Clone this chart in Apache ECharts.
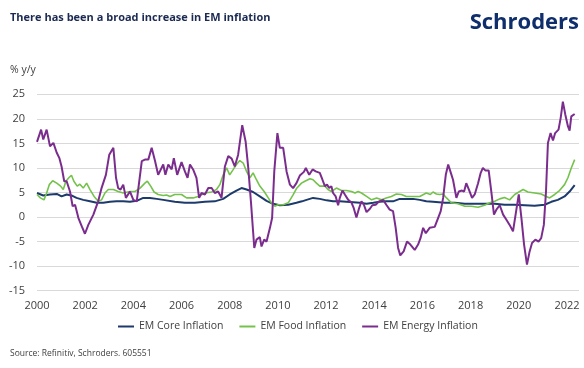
<!DOCTYPE html>
<html><head><meta charset="utf-8">
<script src="https://cdn.jsdelivr.net/npm/echarts@6/dist/echarts.min.js"></script>
<style>html,body{margin:0;padding:0;background:#fff}#c{width:584px;height:368px}</style>
</head><body><div id="c"></div>
<script>
// Decimal-year dates and values (% y/y)
const coreDates = [2000.0,2000.26,2000.54,2000.82,2001.02,2001.23,2001.43,2001.64,2001.92,2002.2,2002.48,2002.75,2003.03,2003.3,2003.58,2003.86,2004.14,2004.41,2004.69,2004.97,2005.24,2005.72,2006.14,2006.55,2006.97,2007.38,2007.73,2008.0,2008.28,2008.49,2008.7,2008.97,2009.25,2009.53,2009.8,2010.08,2010.43,2010.77,2011.0,2011.19,2011.46,2011.74,2012.02,2012.29,2012.57,2012.85,2013.13,2013.4,2013.68,2013.96,2014.23,2014.5,2014.78,2015.06,2015.33,2015.61,2015.89,2016.16,2016.44,2016.93,2017.34,2017.76,2018.17,2018.58,2019.0,2019.41,2019.83,2020.25,2020.66,2021.07,2021.35,2021.62,2021.9,2022.11,2022.32];
const coreValues = [4.9,4.4,4.6,4.7,4.2,4.6,4.4,3.9,3.5,3.2,2.9,2.9,3.1,3.2,3.2,3.1,3.3,3.9,3.9,3.7,3.5,3.1,2.9,2.9,3.1,3.2,3.7,4.6,5.4,5.9,5.6,5.1,4.2,3.3,2.7,2.4,2.5,2.9,3.2,3.5,3.9,3.7,3.4,3.2,3.2,3.1,3.0,2.9,2.7,2.9,3.1,3.2,3.2,3.7,3.7,3.7,3.5,3.2,3.1,2.9,2.9,2.7,2.7,2.7,2.7,2.5,2.5,2.4,2.3,2.5,3.1,3.5,4.2,5.2,6.5];

const foodDates = [2000.0,2000.14,2000.29,2000.4,2000.51,2000.65,2000.82,2000.98,2001.09,2001.2,2001.34,2001.43,2001.53,2001.67,2001.78,2001.92,2002.06,2002.2,2002.37,2002.54,2002.68,2002.82,2002.96,2003.17,2003.37,2003.58,2003.86,2004.07,2004.28,2004.48,2004.58,2004.72,2004.86,2005.03,2005.24,2005.38,2005.52,2005.72,2006.0,2006.21,2006.48,2006.69,2006.97,2007.25,2007.45,2007.59,2007.73,2007.87,2008.0,2008.15,2008.28,2008.42,2008.56,2008.7,2008.84,2008.97,2009.11,2009.25,2009.43,2009.6,2009.73,2009.87,2010.01,2010.22,2010.43,2010.63,2010.77,2010.98,2011.12,2011.33,2011.46,2011.6,2011.74,2011.95,2012.08,2012.22,2012.43,2012.64,2012.85,2013.06,2013.2,2013.33,2013.47,2013.68,2013.89,2014.1,2014.3,2014.5,2014.71,2014.92,2015.13,2015.33,2015.61,2015.89,2016.16,2016.33,2016.44,2016.58,2016.72,2016.86,2017.0,2017.2,2017.48,2017.76,2018.03,2018.31,2018.58,2018.79,2019.0,2019.21,2019.41,2019.62,2019.83,2020.04,2020.18,2020.38,2020.66,2020.93,2021.14,2021.28,2021.49,2021.69,2021.9,2022.04,2022.18,2022.32];
const foodValues = [4.6,3.9,3.5,4.9,6.6,7.4,6.9,6.3,5.6,7.3,8.1,8.5,7.3,6.3,6.7,5.9,6.9,5.6,4.2,3.2,3.5,4.9,5.6,5.6,5.2,4.9,5.2,5.2,5.9,6.9,7.3,6.3,5.1,4.6,4.4,4.5,4.2,4.6,4.6,3.9,3.9,4.2,4.9,5.1,5.6,6.6,8.6,10.0,8.6,9.7,10.7,11.5,11.0,9.3,8.0,9.0,7.6,6.3,5.2,3.9,2.9,2.2,2.5,2.5,2.9,4.5,5.8,6.9,7.3,7.8,7.6,6.9,6.3,6.3,5.6,5.2,5.9,5.4,5.4,5.2,4.9,5.2,4.9,4.2,3.5,3.9,3.5,3.9,4.2,4.7,4.6,4.2,4.2,4.2,4.9,4.6,5.1,4.7,4.6,4.7,3.9,2.9,2.7,2.2,2.2,2.0,2.4,2.9,3.2,3.7,4.0,3.5,4.6,5.2,5.6,5.1,4.9,4.7,4.2,3.9,4.6,5.4,6.6,8.0,10.0,11.7];

const energyDates = [2000.0,2000.17,2000.26,2000.4,2000.54,2000.68,2000.82,2000.93,2001.02,2001.13,2001.23,2001.37,2001.48,2001.58,2001.72,2001.86,2001.99,2002.13,2002.34,2002.54,2002.68,2002.86,2003.0,2003.17,2003.28,2003.37,2003.47,2003.58,2003.69,2003.86,2004.0,2004.14,2004.21,2004.35,2004.48,2004.62,2004.76,2004.9,2005.03,2005.24,2005.33,2005.45,2005.59,2005.68,2005.82,2006.0,2006.14,2006.25,2006.35,2006.48,2006.62,2006.73,2006.83,2006.97,2007.11,2007.25,2007.38,2007.52,2007.66,2007.8,2007.94,2008.08,2008.21,2008.35,2008.52,2008.66,2008.77,2008.88,2008.97,2009.02,2009.11,2009.25,2009.32,2009.43,2009.53,2009.67,2009.76,2009.85,2009.98,2010.08,2010.22,2010.36,2010.5,2010.63,2010.77,2010.91,2011.08,2011.16,2011.3,2011.44,2011.57,2011.74,2011.85,2011.95,2012.04,2012.13,2012.22,2012.29,2012.4,2012.5,2012.57,2012.68,2012.78,2012.92,2013.06,2013.15,2013.26,2013.37,2013.47,2013.57,2013.68,2013.82,2013.92,2014.06,2014.2,2014.37,2014.5,2014.64,2014.78,2014.89,2014.99,2015.08,2015.22,2015.36,2015.5,2015.68,2015.82,2015.92,2016.03,2016.14,2016.3,2016.51,2016.65,2016.76,2016.86,2016.97,2017.07,2017.18,2017.27,2017.41,2017.51,2017.64,2017.73,2017.82,2017.93,2018.06,2018.17,2018.31,2018.42,2018.51,2018.61,2018.75,2018.86,2018.97,2019.07,2019.21,2019.35,2019.48,2019.62,2019.76,2019.9,2020.0,2020.11,2020.22,2020.34,2020.45,2020.55,2020.69,2020.82,2020.93,2021.04,2021.13,2021.21,2021.32,2021.42,2021.51,2021.65,2021.74,2021.83,2021.93,2022.04,2022.11,2022.18,2022.32];
const energyValues = [15.3,17.8,15.8,17.8,14.4,15.1,13.1,12.0,10.3,7.3,7.3,5.2,2.2,2.5,-0.2,-1.9,-3.4,-1.6,0.5,3.2,5.9,8.6,12.7,14.1,8.0,5.9,5.6,6.6,3.9,5.2,3.5,3.2,3.5,11.4,11.7,11.7,14.1,11.4,8.6,10.7,8.6,10.7,9.7,12.0,8.6,11.2,9.3,8.0,10.7,9.7,8.0,3.9,4.9,4.6,5.9,5.9,4.9,5.2,3.9,10.3,12.4,11.9,10.3,12.7,18.7,15.4,10.0,3.2,-2.9,-6.3,-4.6,-4.1,-6.0,-4.6,-5.0,-2.2,-0.2,9.3,17.1,14.1,14.1,9.3,6.6,5.9,6.9,8.45,9.2,10.0,8.6,9.7,9.3,9.0,7.6,6.3,6.6,5.9,6.3,4.9,4.2,2.4,3.9,5.4,4.6,3.5,2.9,1.8,-0.1,1.8,3.2,2.5,1.0,1.7,2.4,2.5,3.2,3.5,2.5,1.5,1.2,-2.2,-6.3,-7.8,-7.0,-5.0,-5.6,-6.7,-5.6,-4.3,-2.2,-3.3,-2.2,-2.0,-0.2,1.2,3.9,8.6,10.7,9.0,7.6,3.9,5.2,5.4,5.2,6.9,5.6,3.9,4.6,6.9,9.0,10.0,9.5,9.5,5.2,0.5,1.5,2.4,0.5,-0.5,-1.6,-2.9,1.5,4.6,-0.2,-5.6,-9.7,-7.0,-5.3,-4.6,-5.0,-4.3,-1.6,5.2,15.1,17.1,15.6,17.1,17.8,20.2,23.5,20.9,18.5,17.6,20.5,21.0];

const seriesNames = ['EM Core Inflation','EM Food Inflation','EM Energy Inflation'];
const yTicks = {min:-15, max:25, step:5};
const xTicks = {min:2000, max:2022.5, step:2};

function pairs(xs, ys){ return xs.map((x,i)=>[x, ys[i]]); }

const chart = echarts.init(document.getElementById('c'), null, {renderer:'canvas'});
chart.setOption({
  animation:false,
  textStyle:{fontFamily:'Open Sans'},
  title:[
    {text:'There has been a broad increase in EM inflation', left:10, top:12, padding:0,
     textStyle:{fontSize:11, fontWeight:'bold', color:'#1b2a52', fontFamily:'Open Sans'}},
    {text:'Schroders', right:5, top:12, padding:0,
     textStyle:{fontSize:22, fontWeight:'bold', color:'#0e2f6b', fontFamily:'Open Sans'}},
    {text:'% y/y', left:10, top:65, padding:0,
     textStyle:{fontSize:10.5, fontWeight:'normal', color:'#404040', fontFamily:'Open Sans'}},
    {text:'Source: Refinitiv, Schroders. 605551', left:10, top:349, padding:0,
     textStyle:{fontSize:8.5, fontWeight:'normal', color:'#404040', fontFamily:'Open Sans'}}
  ],
  legend:{
    left:118, top:321, padding:0, itemGap:16, itemWidth:16, itemHeight:2, icon:'rect',
    textStyle:{fontSize:10.5, color:'#404040', fontFamily:'Open Sans'},
    data:seriesNames
  },
  grid:{left:37, right:5, top:94.3, bottom:77.3, containLabel:false},
  xAxis:{
    type:'value', min:xTicks.min, max:xTicks.max, interval:xTicks.step,
    axisLine:{show:false}, axisTick:{show:false}, splitLine:{show:false},
    axisLabel:{fontSize:11, color:'#404040', margin:10, showMaxLabel:false,
      formatter:v => (Math.abs(v % 2) < 1e-9 ? String(v) : '')}
  },
  yAxis:{
    type:'value', min:yTicks.min, max:yTicks.max, interval:yTicks.step,
    axisLine:{show:false}, axisTick:{show:false},
    splitLine:{lineStyle:{color:'#d9d9d9', width:1}},
    axisLabel:{fontSize:11, color:'#404040', margin:12}
  },
  series:[
    {name:seriesNames[0], type:'line', data:pairs(coreDates, coreValues), showSymbol:false, symbol:'none',
     color:'#1c3a6b', lineStyle:{width:2, color:'#1c3a6b'}},
    {name:seriesNames[1], type:'line', data:pairs(foodDates, foodValues), showSymbol:false, symbol:'none',
     color:'#74c24c', lineStyle:{width:1.6, color:'#74c24c'}},
    {name:seriesNames[2], type:'line', data:pairs(energyDates, energyValues), showSymbol:false, symbol:'none',
     color:'#7b2d8e', lineStyle:{width:2, color:'#7b2d8e'}}
  ]
});
</script>
</body></html>
